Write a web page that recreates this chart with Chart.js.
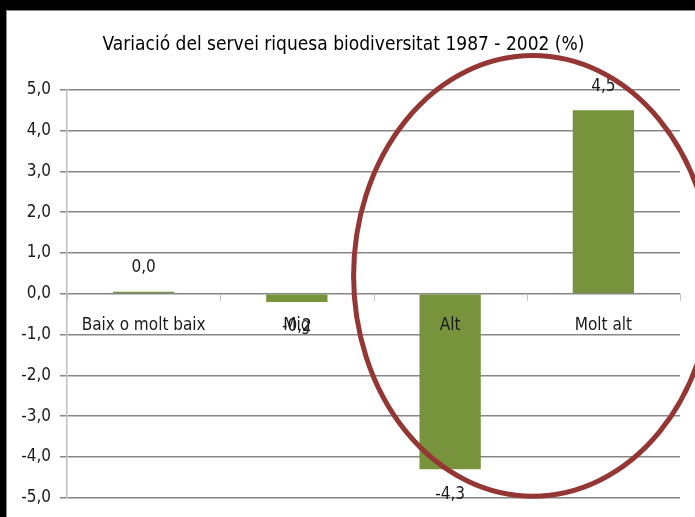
<!DOCTYPE html>
<html lang="ca">
<head>
    <meta charset="UTF-8">
    <title>Variació del servei riquesa biodiversitat</title>
    <style>
        body {
            margin: 0;
            padding: 0;
            background-color: black;
        }
        .frame {
            position: absolute;
            left: 6px;
            top: 10px;
            width: 689px;
            height: 507px;
            background-color: white;
            border-top: 1px solid #8c8c8c;
            border-left: 1px solid #8c8c8c;
            box-sizing: border-box;
        }
    </style>
    <script src="https://cdn.jsdelivr.net/npm/chart.js"></script>
</head>
<body>
    <div class="frame">
        <canvas id="bioChart" width="688" height="506"></canvas>
    </div>

    <script>
        // Valors llegits del gràfic
        const categories = ['Baix o molt baix', 'Mig', 'Alt', 'Molt alt'];
        const variation = [0.05, -0.2, -4.3, 4.5];
        const valueLabels = ['0,0', '-0,2', '-4,3', '4,5'];

        const FONT = '"Liberation Sans Narrow", "DejaVu Sans Condensed", sans-serif';

        // category labels, ticks on the zero line, value labels and the red circle
        const overlay = {
            id: 'overlay',
            afterDatasetsDraw(chart) {
                const ctx = chart.ctx;
                const x = chart.scales.x;
                const y = chart.scales.y;
                const y0 = y.getPixelForValue(0);
                const step = x.getPixelForValue(1) - x.getPixelForValue(0);

                ctx.save();
                // tick marks
                ctx.strokeStyle = '#bfbfbf';
                ctx.lineWidth = 1;
                for (let i = 0; i <= categories.length; i++) {
                    const px = Math.round(x.getPixelForValue(i - 0.5)) + 0.5;
                    ctx.beginPath();
                    ctx.moveTo(px, y0);
                    ctx.lineTo(px, y0 + 7);
                    ctx.stroke();
                }
                // category labels next to the axis
                ctx.fillStyle = '#1a1a1a';
                ctx.font = '17px ' + FONT;
                ctx.textAlign = 'center';
                ctx.textBaseline = 'middle';
                categories.forEach((c, i) => {
                    ctx.fillText(c, x.getPixelForValue(i), y0 + 32);
                });
                // value labels
                const meta = chart.getDatasetMeta(0);
                meta.data.forEach((bar, i) => {
                    const off = variation[i] >= 0 ? -24 : 25;
                    ctx.fillText(valueLabels[i], bar.x, bar.y + off);
                });
                // red ellipse
                ctx.strokeStyle = '#943634';
                ctx.lineWidth = 5;
                ctx.beginPath();
                ctx.ellipse(x.getPixelForValue(2.54), y.getPixelForValue(0.44),
                    step * 1.17, (y.getPixelForValue(0) - y.getPixelForValue(5.4)), 0, 0, Math.PI * 2);
                ctx.stroke();
                ctx.restore();
            }
        };

        new Chart(document.getElementById('bioChart'), {
            type: 'bar',
            data: {
                labels: categories,
                datasets: [{
                    data: variation,
                    backgroundColor: '#77933c',
                    categoryPercentage: 0.4,
                    barPercentage: 1.0
                }]
            },
            options: {
                responsive: false,
                animation: false,
                layout: {
                    padding: { top: 0, right: 15, bottom: 12, left: 0 }
                },
                scales: {
                    x: {
                        display: false
                    },
                    y: {
                        min: -5,
                        max: 5,
                        afterFit(scale) { scale.width = 60; },
                        ticks: {
                            stepSize: 1,
                            color: '#1a1a1a',
                            padding: 9,
                            font: { family: FONT, size: 17 },
                            callback: v => v.toFixed(1).replace('.', ',')
                        },
                        grid: {
                            color: '#868686',
                            lineWidth: 1.5,
                            tickLength: 7
                        },
                        border: { color: '#bfbfbf', width: 1.5 }
                    }
                },
                plugins: {
                    legend: { display: false },
                    tooltip: { enabled: false },
                    title: {
                        display: true,
                        text: 'Variació del servei riquesa biodiversitat 1987 - 2002 (%)',
                        color: '#000000',
                        font: { family: FONT, size: 19, weight: 'normal' },
                        padding: { top: 23, bottom: 33 }
                    }
                }
            },
            plugins: [overlay]
        });
    </script>
</body>
</html>
